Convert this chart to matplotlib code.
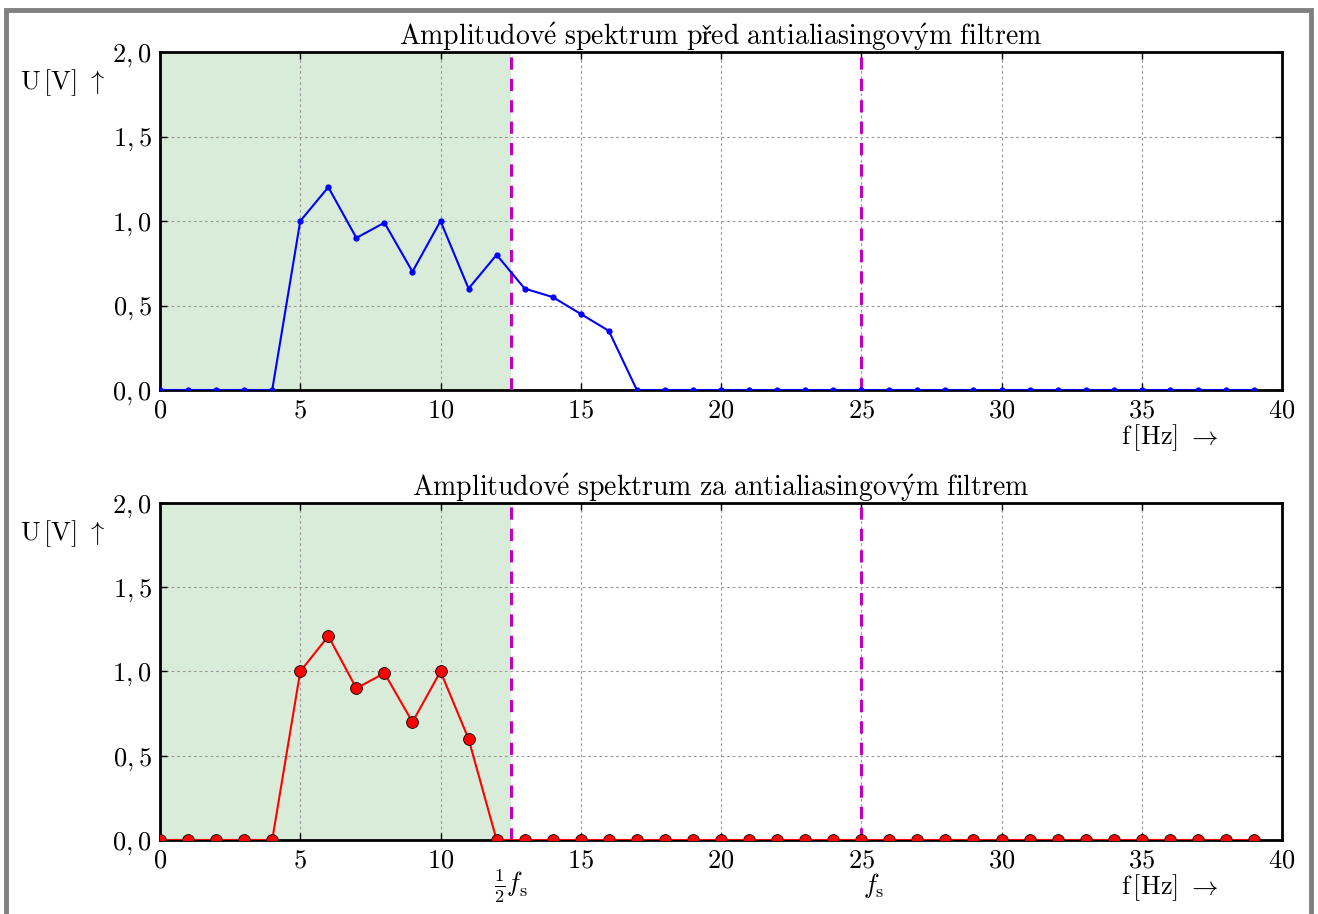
import matplotlib
matplotlib.use("Agg")
import matplotlib.pyplot as plt
from matplotlib.patches import Rectangle
from matplotlib.ticker import FuncFormatter, MultipleLocator

plt.rcParams['font.family'] = ['cmr10', 'DejaVu Serif']
plt.rcParams['mathtext.fontset'] = 'cm'
plt.rcParams['axes.formatter.use_mathtext'] = True
plt.rcParams['font.size'] = 19

f = list(range(40))
u_pred = [0, 0, 0, 0, 0, 1.0, 1.2, 0.9, 0.99, 0.7, 1.0, 0.6, 0.8, 0.6, 0.55, 0.45, 0.35, 0,
          0, 0, 0, 0, 0, 0, 0, 0, 0, 0, 0, 0, 0, 0, 0, 0, 0, 0, 0, 0, 0, 0]
u_za = [0, 0, 0, 0, 0, 1.0, 1.21, 0.9, 0.99, 0.7, 1.0, 0.6, 0, 0, 0, 0, 0, 0,
        0, 0, 0, 0, 0, 0, 0, 0, 0, 0, 0, 0, 0, 0, 0, 0, 0, 0, 0, 0, 0, 0]
fs = 25.0
titles = [r'$\mathrm{Amplitudov\acute{e}\ spektrum\ před\ antialiasingov\acute{y}m\ filtrem}$',
          r'$\mathrm{Amplitudov\acute{e}\ spektrum\ za\ antialiasingov\acute{y}m\ filtrem}$']

fig = plt.figure(figsize=(13.18, 9.14), dpi=100)
ax1 = fig.add_axes([0.1214, 0.5733, 0.8513, 0.3698])
ax2 = fig.add_axes([0.1214, 0.0810, 0.8513, 0.3687])


def yfmt(v, pos):
    return ('$%.1f$' % v).replace('.', ',')


def setup(ax, title):
    ax.axvspan(0, fs / 2, color='g', alpha=0.15, lw=0, zorder=0)
    for xv in (fs / 2, fs):
        ax.axvline(xv, color='m', lw=2.2, dashes=(4, 3), zorder=3)
    ax.set_xlim(0, 40)
    ax.set_ylim(0, 2)
    ax.xaxis.set_major_locator(MultipleLocator(5))
    ax.yaxis.set_major_locator(MultipleLocator(0.5))
    ax.xaxis.set_major_formatter(FuncFormatter(lambda v, p: '$%d$' % v))
    ax.yaxis.set_major_formatter(FuncFormatter(yfmt))
    ax.grid(True, color='#999999', linestyle=(0, (2.5, 2.5)), lw=0.8, zorder=1)
    ax.set_axisbelow(True)
    ax.tick_params(direction='in', top=True, right=True, length=5, width=1,
                   labelsize=19, pad=6)
    for s in ax.spines.values():
        s.set_linewidth(2)
    ax.set_title(title, fontsize=20, pad=5)
    ax.annotate(r'$\mathrm{U\,[V]}\ \uparrow$', xy=(0, 1), xycoords='axes fraction',
                xytext=(-70, -22), textcoords='offset points', ha='center', va='center',
                fontsize=19)
    ax.annotate(r'$\mathrm{f\,[Hz]}\ \rightarrow$', xy=(36, 0), xycoords=('data', 'axes fraction'),
                xytext=(0, -34), textcoords='offset points', ha='center', va='center',
                fontsize=19)


setup(ax1, titles[0])
ax1.plot(f, u_pred, color='b', lw=1.5, marker='.', markersize=7, zorder=4)

setup(ax2, titles[1])
ax2.plot(f, u_za, color='r', lw=1.5, marker='o', markersize=8.5,
         markeredgecolor='k', markeredgewidth=0.6, zorder=4)
ax2.annotate(r'$\frac{1}{2}f_\mathrm{s}$', xy=(fs / 2, 0), xycoords=('data', 'axes fraction'),
             xytext=(0, -38), textcoords='offset points', ha='center', va='baseline', fontsize=19)
ax2.annotate(r'$f_\mathrm{s}$', xy=(fs, 0), xycoords=('data', 'axes fraction'),
             xytext=(1, -38), textcoords='offset points', ha='left', va='baseline', fontsize=19)

fig.patches.append(Rectangle((0.0049, -0.05), 0.9899, 1.0396, transform=fig.transFigure,
                             fill=False, edgecolor='#808080', lw=3.5, figure=fig))

fig.savefig('out.png', dpi=100)
